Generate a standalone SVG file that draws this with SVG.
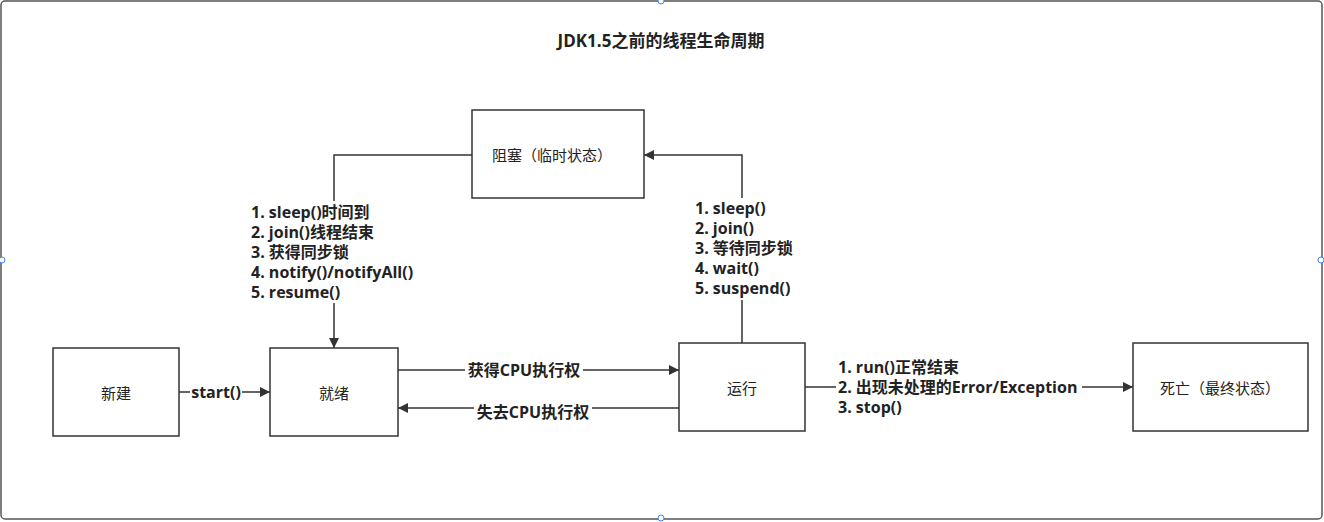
<svg xmlns="http://www.w3.org/2000/svg" width="1324" height="522" viewBox="0 0 1324 522">
<defs>
<marker id="arr" viewBox="0 0 10 10" refX="10" refY="5" markerWidth="10" markerHeight="10" markerUnits="userSpaceOnUse" orient="auto">
<path d="M0,0 L10,5 L0,10 Z" fill="#333"/>
</marker>
<style>
.node rect{fill:#fff;stroke:#333;stroke-width:1.5}
.nt{font-family:"Noto Sans CJK SC","Noto Sans",sans-serif;font-size:15px;fill:#222;text-anchor:middle;dominant-baseline:central}
.lb{font-family:"Open Sans","Noto Sans CJK SC",sans-serif;font-size:16px;font-weight:bold;fill:#222}
.edge{fill:none;stroke:#333;stroke-width:1.5}
.h{fill:#fff;stroke:#3b82f6;stroke-width:1}
</style>
</defs>
<rect x="1" y="1" width="1321" height="518" rx="4" fill="#fff" stroke="#555" stroke-width="1.5"/>
<text x="661" y="40" class="lb" text-anchor="middle" dominant-baseline="central" style="font-size:17px">JDK1.5之前的线程生命周期</text>
<g id="connectors">
<path class="edge" d="M179,392 H270" marker-end="url(#arr)"/>
<path class="edge" d="M398,370 H679" marker-end="url(#arr)"/>
<path class="edge" d="M679,408 H398" marker-end="url(#arr)"/>
<path class="edge" d="M805,387 H1133" marker-end="url(#arr)"/>
<path class="edge" d="M742,343 V155 H644" marker-end="url(#arr)"/>
<path class="edge" d="M472,155 H334 V348" marker-end="url(#arr)"/>
<rect x="190" y="382" width="52" height="20" fill="#fff"/>
<text x="216" y="392" class="lb" text-anchor="middle" dominant-baseline="central">start()</text>
<rect x="465" y="360" width="118" height="20" fill="#fff"/>
<text x="524" y="370" class="lb" text-anchor="middle" dominant-baseline="central">获得CPU执行权</text>
<rect x="474" y="402" width="118" height="20" fill="#fff"/>
<text x="533" y="412" class="lb" text-anchor="middle" dominant-baseline="central">失去CPU执行权</text>
<rect x="836" y="357" width="246" height="62" fill="#fff"/>
<text class="lb" x="838" y="367" dominant-baseline="central">1. run()正常结束</text>
<text class="lb" x="838" y="387" dominant-baseline="central">2. 出现未处理的Error/Exception</text>
<text class="lb" x="838" y="407" dominant-baseline="central">3. stop()</text>
<rect x="690" y="198" width="104" height="102" fill="#fff"/>
<text class="lb" x="695" y="208" dominant-baseline="central">1. sleep()</text>
<text class="lb" x="695" y="228" dominant-baseline="central">2. join()</text>
<text class="lb" x="695" y="248" dominant-baseline="central">3. 等待同步锁</text>
<text class="lb" x="695" y="268" dominant-baseline="central">4. wait()</text>
<text class="lb" x="695" y="288" dominant-baseline="central">5. suspend()</text>
<rect x="248" y="201" width="190" height="102" fill="#fff"/>
<text class="lb" x="251" y="212" dominant-baseline="central">1. sleep()时间到</text>
<text class="lb" x="251" y="232" dominant-baseline="central">2. join()线程结束</text>
<text class="lb" x="251" y="252" dominant-baseline="central">3. 获得同步锁</text>
<text class="lb" x="251" y="272" dominant-baseline="central">4. notify()/notifyAll()</text>
<text class="lb" x="251" y="292" dominant-baseline="central">5. resume()</text>
</g>
<g id="n-new" class="node"><rect x="53" y="348" width="126" height="88"/><text class="nt" x="116" y="392">新建</text></g>
<g id="n-ready" class="node"><rect x="270" y="348" width="128" height="88"/><text class="nt" x="334" y="392">就绪</text></g>
<g id="n-run" class="node"><rect x="679" y="343" width="126" height="88"/><text class="nt" x="742" y="387">运行</text></g>
<g id="n-dead" class="node"><rect x="1133" y="343" width="175" height="88"/><text class="nt" x="1220" y="387">死亡（最终状态）</text></g>
<g id="n-block" class="node"><rect x="472" y="110" width="172" height="88"/><text class="nt" x="552" y="154">阻塞（临时状态）</text></g>
<g id="handles">
<circle class="h" cx="661" cy="1" r="3"/>
<circle class="h" cx="661" cy="518" r="3"/>
<circle class="h" cx="2" cy="260" r="3"/>
<circle class="h" cx="1321" cy="260" r="3"/>
</g>
</svg>
